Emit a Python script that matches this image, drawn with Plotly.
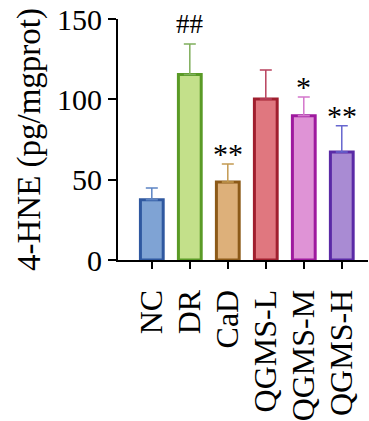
import plotly.graph_objects as go

categories = ["NC", "DR", "CaD", "QGMS-L", "QGMS-M", "QGMS-H"]
means = [37.5, 115.5, 48.5, 100.2, 89.8, 67.2]
errors = [7.3, 19.0, 11.2, 18.0, 11.7, 16.4]
marks = ["", "##", "**", "", "*", "**"]

fill_colors = ["#7fa3d4", "#c3e08a", "#ddb07a", "#e0777f", "#df93d6", "#a98bd3"]
line_colors = ["#2f58a0", "#5a9a26", "#8c5a18", "#a01f2e", "#9e1a9e", "#5a2aa6"]
err_colors = ["#5c84c4", "#7fae5c", "#c49a52", "#b8425e", "#d477cc", "#6767cf"]

fig = go.Figure()
for i, c in enumerate(categories):
    fig.add_trace(go.Bar(
        x=[c], y=[means[i]], width=0.6,
        marker=dict(color=fill_colors[i], line=dict(color=line_colors[i], width=3)),
        error_y=dict(type="data", array=[errors[i]], arrayminus=[0], symmetric=False,
                     color=err_colors[i], thickness=1.5, width=6),
        showlegend=False,
    ))
    if marks[i]:
        is_star = "*" in marks[i]
        fig.add_annotation(x=c, y=means[i] + errors[i], text=marks[i], showarrow=False,
                           yanchor="bottom", yshift=-8 if is_star else 3,
                           font=dict(family="Liberation Serif", size=30 if is_star else 27,
                                     color="black"))

fig.update_layout(
    width=369, height=421,
    margin=dict(l=118, r=1, t=19, b=161),
    plot_bgcolor="white", paper_bgcolor="white",
    barmode="overlay",
    font=dict(family="Liberation Serif", color="black"),
)
fig.update_xaxes(
    range=[-0.89, 5.69], showline=True, linecolor="black", linewidth=2,
    tickmode="array", tickvals=categories, ticktext=categories,
    ticks="outside", ticklen=7, tickwidth=2, tickcolor="black",
    tickangle=-90, tickfont=dict(size=32, family="Liberation Serif"),
    ticklabelstandoff=8, automargin=False,
    showgrid=False,
)
fig.update_yaxes(
    range=[0, 150], tickvals=[0, 50, 100, 150], showline=True, linecolor="black", linewidth=2,
    ticks="outside", ticklen=8, tickwidth=2, tickcolor="black",
    tickfont=dict(size=30, family="Liberation Serif"),
    title=dict(text="4-HNE (pg/mgprot)", font=dict(size=33, family="Liberation Serif"), standoff=6),
    showgrid=False, zeroline=False, automargin=False,
)
fig.write_html("out.html")
